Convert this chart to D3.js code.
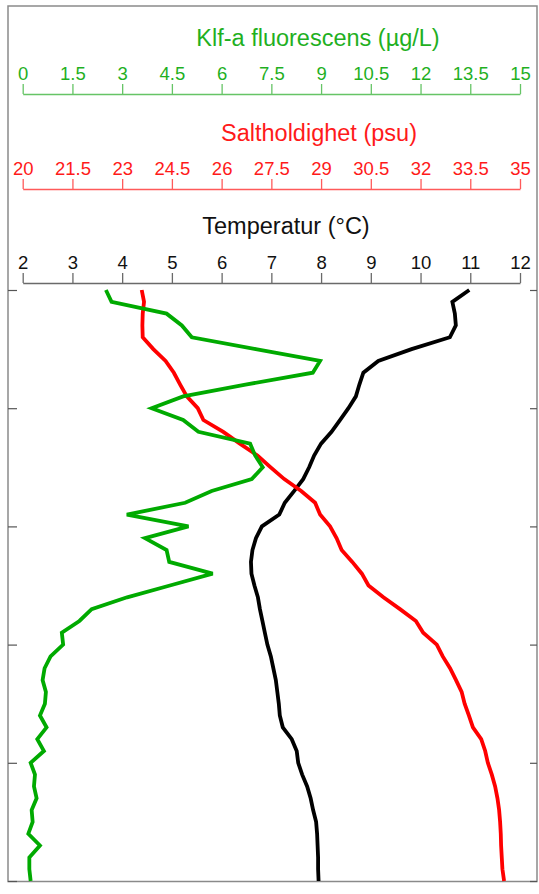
<!DOCTYPE html>
<html>
<head>
<meta charset="utf-8">
<script src="https://cdn.jsdelivr.net/npm/d3@7"></script>
<style>
  html, body { margin: 0; padding: 0; background: #fff; }
  svg { display: block; font-family: Arial, "Liberation Sans", Helvetica, sans-serif; }
</style>
</head>
<body>
<svg id="chart" width="539" height="894"></svg>
<script>
// Depth levels (m), every 0.5 m from 0 to 25
const depth = d3.range(0, 25.001, 0.5);

// Temperature (°C)
const temperature = [10.98, 10.64, 10.69, 10.71, 10.59, 9.82, 9.15, 8.85, 8.77, 8.70,
  8.55, 8.38, 8.21, 8.00, 7.86, 7.76, 7.64, 7.46, 7.27, 7.16,
  6.81, 6.69, 6.62, 6.59, 6.60, 6.66, 6.73, 6.77, 6.82, 6.87,
  6.92, 6.99, 7.04, 7.09, 7.12, 7.15, 7.17, 7.23, 7.41, 7.51,
  7.54, 7.62, 7.72, 7.79, 7.84, 7.90, 7.92, 7.93, 7.94, 7.94, 7.95];

// Salinity (psu)
const salinity = [23.59, 23.66, 23.62, 23.61, 23.62, 23.94, 24.31, 24.56, 24.75, 24.95,
  25.28, 25.45, 26.05, 26.55, 27.08, 27.48, 27.89, 28.40, 28.82, 28.97,
  29.27, 29.47, 29.62, 29.94, 30.23, 30.43, 30.88, 31.38, 31.86, 32.08,
  32.49, 32.67, 32.89, 33.07, 33.24, 33.33, 33.46, 33.58, 33.83, 33.95,
  34.03, 34.15, 34.25, 34.32, 34.37, 34.40, 34.42, 34.43, 34.45, 34.47, 34.52];

// Chlorophyll-a fluorescence (µg/L)
const chlorophyll = [2.51, 2.68, 4.34, 4.80, 5.10, 7.03, 8.97, 8.75, 6.72, 4.84,
  3.89, 4.84, 5.30, 6.86, 7.01, 7.24, 6.91, 5.70, 4.90, 3.14,
  5.00, 3.69, 4.34, 4.42, 5.73, 4.44, 3.15, 2.08, 1.71, 1.18,
  1.22, 0.84, 0.66, 0.60, 0.70, 0.67, 0.52, 0.72, 0.44, 0.64,
  0.24, 0.37, 0.34, 0.42, 0.27, 0.30, 0.17, 0.52, 0.20, 0.20, 0.24];

const tempTicks = [2, 3, 4, 5, 6, 7, 8, 9, 10, 11, 12];
const salTicks = [20, 21.5, 23, 24.5, 26, 27.5, 29, 30.5, 32, 33.5, 35];
const chlTicks = [0, 1.5, 3, 4.5, 6, 7.5, 9, 10.5, 12, 13.5, 15];
const depthTicks = [0, 5, 10, 15, 20, 25];

const svg = d3.select("#chart");

const x0 = 22.7, x1 = 520;
const plotTop = 290, plotBottom = 881;
const frame = {left: 8, top: 6, right: 537, bottom: 881.5};

const xT = d3.scaleLinear().domain([2, 12]).range([x0, x1]);
const xS = d3.scaleLinear().domain([20, 35]).range([x0, x1]);
const xC = d3.scaleLinear().domain([0, 15]).range([x0, x1]);
const y = d3.scaleLinear().domain([0, 25]).range([plotTop, plotBottom]);

// outer frame
svg.append("rect")
  .attr("x", frame.left).attr("y", frame.top)
  .attr("width", frame.right - frame.left).attr("height", frame.bottom - frame.top)
  .attr("fill", "none").attr("stroke", "#8a8a8a").attr("stroke-width", 1.5);

// depth ticks (left and right, inward, no labels)
const yLeft = svg.append("g").attr("transform", `translate(${frame.left},0)`)
  .call(d3.axisRight(y).tickValues(depthTicks).tickSize(9).tickFormat(""));
yLeft.select(".domain").remove();
yLeft.selectAll(".tick line").attr("stroke", "#555").attr("stroke-width", 1.2);

const yRight = svg.append("g").attr("transform", `translate(${frame.right},0)`)
  .call(d3.axisLeft(y).tickValues(depthTicks).tickSize(7).tickFormat(""));
yRight.select(".domain").remove();
yRight.selectAll(".tick line").attr("stroke", "#555").attr("stroke-width", 1.2);

function topAxis(scale, ticks, yPos, lineColor, textColor, title, titleX, titleY) {
  const g = svg.append("g").attr("transform", `translate(0,${yPos})`)
    .call(d3.axisTop(scale).tickValues(ticks).tickSize(10).tickSizeOuter(0).tickPadding(4)
      .tickFormat(d => String(d)));
  g.select(".domain").attr("stroke", lineColor).attr("stroke-width", 1.3);
  g.selectAll(".tick line").attr("stroke", lineColor).attr("stroke-width", 1.3);
  g.selectAll(".tick text").attr("fill", textColor).attr("font-size", 18.5)
    .attr("font-family", "Arial, 'Liberation Sans', sans-serif");
  svg.append("text").attr("x", titleX).attr("y", titleY)
    .attr("text-anchor", "middle").attr("fill", textColor)
    .attr("font-size", 23.5).text(title);
}

topAxis(xC, chlTicks, 94, "#66c466", "#1fb01f", "Klf-a fluorescens (µg/L)", 318, 46);
topAxis(xS, salTicks, 189, "#ff5a5a", "#ff1a1a", "Saltholdighet (psu)", 319, 141);
topAxis(xT, tempTicks, 283, "#6a6a6a", "#111", "Temperatur (°C)", 286, 234);

function profile(vals, scale, color) {
  const line = d3.line().x(d => scale(d[0])).y(d => y(d[1]));
  svg.append("path")
    .datum(vals.map((v, i) => [v, depth[i]]))
    .attr("fill", "none").attr("stroke", color)
    .attr("stroke-width", 3.8).attr("stroke-linejoin", "miter").attr("stroke-miterlimit", 3)
    .attr("d", line);
}

profile(temperature, xT, "#000");
profile(salinity, xS, "#ff0000");
profile(chlorophyll, xC, "#00aa00");
</script>
</body>
</html>
